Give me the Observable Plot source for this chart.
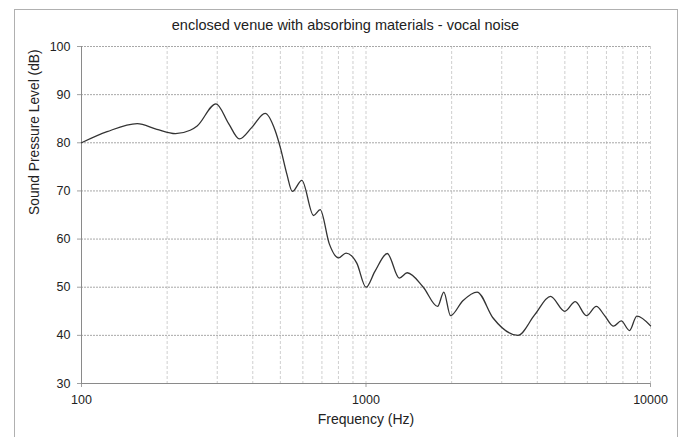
<!DOCTYPE html>
<html>
<head>
<meta charset="utf-8">
<script src="https://cdn.jsdelivr.net/npm/d3@7"></script>
<script src="https://cdn.jsdelivr.net/npm/@observablehq/plot@0.6"></script>
<style>
  html, body { margin: 0; padding: 0; background: #fff; }
  #wrap { position: relative; width: 683px; height: 437px; overflow: hidden; font-family: "Liberation Sans", Arial, sans-serif; }
  #frame { position: absolute; left: 14px; top: 9px; width: 664px; height: 460px; border: 1px solid #b0b0b0; box-sizing: border-box; }
  #title { position: absolute; left: 14px; width: 663px; top: 17px; text-align: center; font-size: 14.5px; color: #222; }
  #chart { position: absolute; left: 0; top: 0; }
</style>
</head>
<body>
<div id="wrap">
  <div id="frame"></div>
  <div id="title">enclosed venue with absorbing materials - vocal noise</div>
  <div id="chart"></div>
</div>
<script>
const freq = [100, 123, 157, 184, 214, 241, 255, 297, 329, 359, 397, 442, 479, 500, 527, 551, 595, 654, 690, 743, 800, 851, 928, 1000, 1075, 1188, 1309, 1396, 1590, 1785, 1877, 1982, 2190, 2458, 2797, 3420, 3920, 4450, 5000, 5440, 5950, 6450, 6900, 7420, 7890, 8440, 8950, 10000];
const spl = [80, 82.3, 84.0, 82.8, 81.9, 82.6, 83.5, 88.1, 84.0, 80.8, 83.2, 86.1, 82.6, 79, 73.5, 69.9, 72.2, 64.9, 66.1, 59.0, 56.1, 57.1, 55.0, 50.0, 53.3, 57.0, 51.9, 53.0, 50.0, 46.0, 49.0, 44.1, 47.2, 49.0, 43.6, 40.0, 44.3, 48.1, 45.0, 47.0, 44.1, 46.0, 44.1, 41.9, 43.0, 41.0, 44.0, 42.0];
const xTicks = [100, 1000, 10000];
const xMinor = [200, 300, 400, 500, 600, 700, 800, 900, 1000, 2000, 3000, 4000, 5000, 6000, 7000, 8000, 9000, 10000];
const yTicks = [30, 40, 50, 60, 70, 80, 90, 100];
const title = "enclosed venue with absorbing materials - vocal noise";
const xLabel = "Frequency (Hz)";
const yLabel = "Sound Pressure Level (dB)";

const data = freq.map((f, i) => ({f, db: spl[i]}));

const chart = Plot.plot({
  width: 683,
  height: 437,
  marginLeft: 81,
  marginRight: 33,
  marginTop: 46,
  marginBottom: 54,
  style: {fontFamily: "'Liberation Sans', Arial, sans-serif", fontSize: "12.5px", color: "#222", background: "transparent"},
  x: {type: "log", domain: [100, 10000]},
  y: {domain: [30, 100]},
  marks: [
    Plot.ruleX(xMinor, {stroke: "#cfcfcf", strokeDasharray: "3,2"}),
    Plot.ruleY(yTicks.filter(d => d > 30), {x1: 100, x2: 10000, stroke: "#a8a8a8", strokeDasharray: "2,1"}),
    Plot.axisY({ticks: yTicks, tickSize: 4, tickPadding: 7, stroke: "#a0a0a0", fill: "#222", label: null}),
    Plot.axisX({ticks: xTicks, tickSize: 4, tickPadding: 8, tickFormat: d => String(d), stroke: "#a0a0a0", fill: "#222", label: null}),
    Plot.ruleX([100], {stroke: "#8a8a8a"}),
    Plot.ruleY([30], {stroke: "#8a8a8a"}),
    Plot.line(data, {x: "f", y: "db", curve: "monotone-x", stroke: "#333", strokeWidth: 1.3}),
    Plot.text([xLabel], {frameAnchor: "bottom", dy: 40, fontSize: 14, fill: "#222"}),
    Plot.text([yLabel], {frameAnchor: "left", dx: -47, rotate: -90, fontSize: 13.8, fill: "#222"})
  ]
});
document.getElementById("chart").appendChild(chart);
</script>
</body>
</html>
